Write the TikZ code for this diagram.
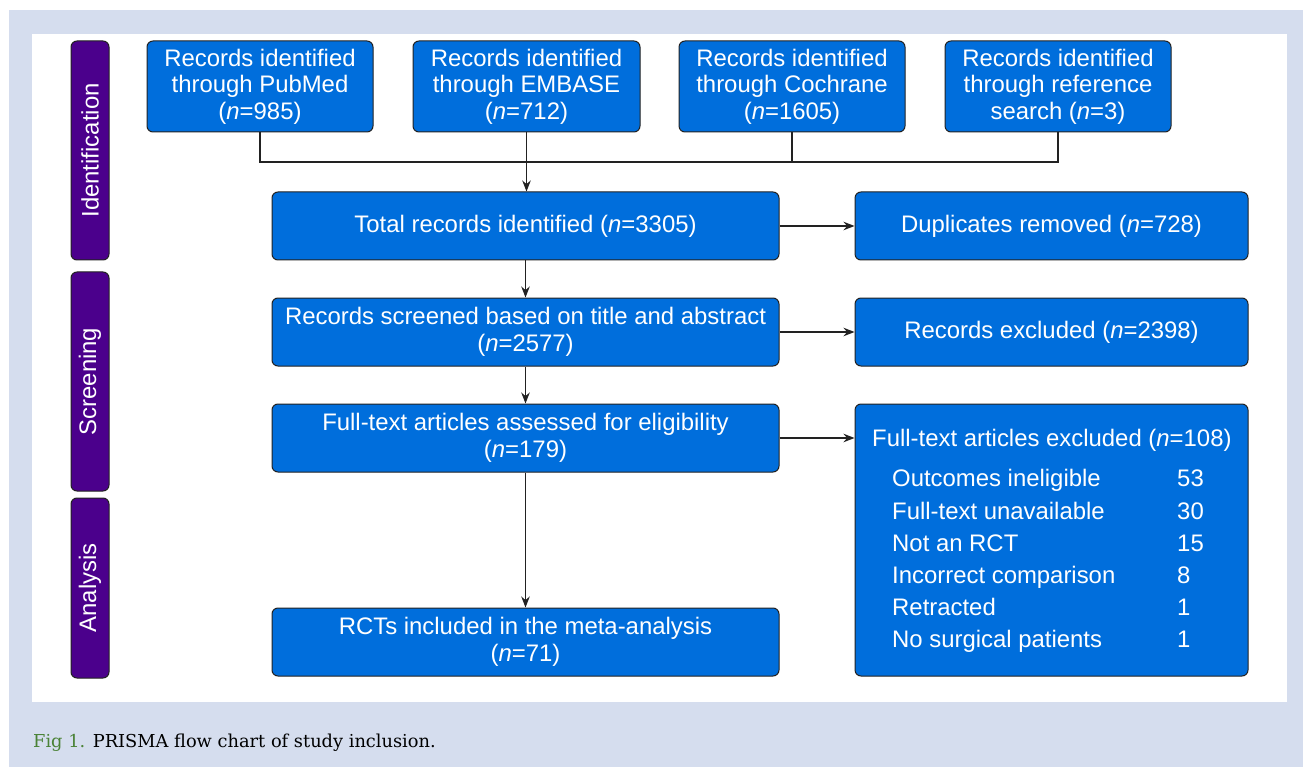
\documentclass[tikz,border=0pt]{standalone}
\usepackage{fontspec}
\setmainfont{Liberation Sans}
\newfontfamily\capfont{DejaVu Serif}
\usetikzlibrary{arrows.meta}
\definecolor{bgc}{HTML}{D5DDEE}
\definecolor{boxc}{HTML}{006EDC}
\definecolor{phc}{HTML}{4B008C}
\definecolor{figc}{HTML}{4A8236}
\definecolor{edgec}{HTML}{222222}
\begin{document}
\begin{tikzpicture}[x=1pt,y=-1pt,
 box/.style={draw=edgec,line width=1pt,fill=boxc,rounded corners=6pt,text=white,align=center,font=\fontsize{23.9}{26.5}\selectfont,inner sep=0pt},
 phase/.style={draw=edgec,line width=1pt,fill=phc,rounded corners=6pt,text=white,font=\fontsize{23.9}{26}\selectfont,inner sep=0pt,minimum width=38pt},
 lst/.style={text=white,font=\fontsize{23.9}{26}\selectfont,inner sep=0pt,anchor=base west},
 conn/.style={draw=edgec,line width=1.3pt},
 arr/.style={conn,-{Stealth[length=11pt,width=8.5pt]}},
 ]
\useasboundingbox (0,0) rectangle (1303,767);
\fill[bgc] (9,10) rectangle (1303,767);
\fill[white] (32,34) rectangle (1287,702);

% phase bars
\node[phase,minimum height=219pt] (ph1) at (90,150.5) {\rotatebox{90}{Identification}};
\node[phase,minimum height=219pt] (ph2) at (90,381.5) {\rotatebox{90}{Screening}};
\node[phase,minimum height=180pt] (ph3) at (90,588) {\rotatebox{90}{Analysis}};

% sources
\node[box,minimum width=226pt,minimum height=91pt] (s1) at (260,86.5) {Records identified\\through PubMed\\(\textit{n}=985)};
\node[box,minimum width=227pt,minimum height=91pt] (s2) at (526.5,86.5) {Records identified\\through EMBASE\\(\textit{n}=712)};
\node[box,minimum width=226pt,minimum height=91pt] (s3) at (792,86.5) {Records identified\\through Cochrane\\(\textit{n}=1605)};
\node[box,minimum width=226pt,minimum height=91pt] (s4) at (1058,86.5) {Records identified\\through reference\\search (\textit{n}=3)};

% main column
\node[box,minimum width=507pt,minimum height=68pt] (total) at (525.5,226) {Total records identified (\textit{n}=3305)};
\node[box,minimum width=507pt,minimum height=68pt] (scr) at (525.5,332) {Records screened based on title and abstract\\(\textit{n}=2577)};
\node[box,minimum width=507pt,minimum height=68pt] (ft) at (525.5,438) {Full-text articles assessed for eligibility\\(\textit{n}=179)};
\node[box,minimum width=507pt,minimum height=68pt] (rct) at (525.5,642) {RCTs included in the meta-analysis\\(\textit{n}=71)};

% right column
\node[box,minimum width=393pt,minimum height=68pt] (dup) at (1051.5,226) {Duplicates removed (\textit{n}=728)};
\node[box,minimum width=393pt,minimum height=68pt] (excl) at (1051.5,332) {Records excluded (\textit{n}=2398)};
\node[box,minimum width=393pt,minimum height=272pt] (ftx) at (1051.5,540) {};
\node[lst] (fth) at (872,446) {Full-text articles excluded (\textit{n}=108)};
\node[lst] (r1) at (892,486) {Outcomes ineligible};
\node[lst] (r2) at (892,519) {Full-text unavailable};
\node[lst] (r3) at (892,551) {Not an RCT};
\node[lst] (r4) at (892,583) {Incorrect comparison};
\node[lst] (r5) at (892,615) {Retracted};
\node[lst] (r6) at (892,647) {No surgical patients};
\node[lst] (v1) at (1177,486) {53};
\node[lst] (v2) at (1177,519) {30};
\node[lst] (v3) at (1177,551) {15};
\node[lst] (v4) at (1177,583) {8};
\node[lst] (v5) at (1177,615) {1};
\node[lst] (v6) at (1177,647) {1};

% connectors
\coordinate (join) at (526.5,162);
\draw[conn] (s1.south) -- (s1.south |- join) -- (s4.south |- join) -- (s4.south);
\draw[conn] (s3.south) -- (s3.south |- join);
\draw[arr] (s2.south) -- (s2.south |- total.north);
\draw[arr] (total.south) -- (scr.north);
\draw[arr] (scr.south) -- (ft.north);
\draw[arr] (ft.south) -- (rct.north);
\draw[arr] (total.east) -- (dup.west);
\draw[arr] (scr.east) -- (excl.west);
\draw[arr] (ft.east) -- (ft.east -| ftx.west);

% caption
\node[anchor=base west,inner sep=0pt,font=\capfont\fontsize{17.8}{21}\selectfont] (cap) at (33,747) {\textcolor{figc}{Fig 1.} PRISMA flow chart of study inclusion.};
\end{tikzpicture}
\end{document}
